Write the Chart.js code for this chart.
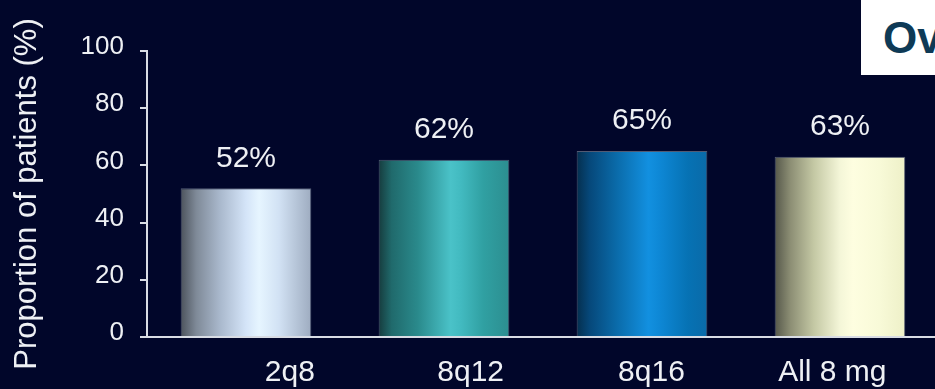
<!DOCTYPE html>
<html>
<head>
<meta charset="utf-8">
<title>Proportion of patients</title>
<script src="https://cdn.jsdelivr.net/npm/chart.js@4/dist/chart.umd.min.js"></script>
<style>
  html, body { margin: 0; padding: 0; background: #01062a; overflow: hidden; }
  body { width: 935px; height: 389px; position: relative; }
  #chartWrap { position: absolute; left: 0; top: 0; width: 950px; height: 389px; }
  .corner-title {
    position: absolute; left: 861px; top: 0; width: 80px; height: 75px;
    background: #ffffff; color: #0e3a56;
    font: bold 44px "Liberation Sans", Arial, sans-serif; line-height: 75px;
    padding-left: 22px; box-sizing: border-box; white-space: nowrap;
  }
</style>
</head>
<body>
<div id="chartWrap"><canvas id="responseChart" width="950" height="389"></canvas></div>
<div class="corner-title">Ov</div>
<script>
// Dose groups and proportion of patients (%)
const categories = ['2q8', '8q12', '8q16', 'All 8 mg'];
const responseRates = [52, 62, 65, 63];
const yTicks = [0, 20, 40, 60, 80, 100];

// Horizontal shading for each bar (cylinder look)
const barGradients = [
  [[0, '#4c535c'], [0.12, '#7f8a98'], [0.3, '#a9b8cc'], [0.5, '#d4e4f8'], [0.6, '#e6f5ff'], [0.75, '#d2e2f4'], [1, '#9eacc0']],
  [[0, '#163c3e'], [0.1, '#206a6c'], [0.3, '#2a8a8c'], [0.55, '#4ac2c8'], [0.63, '#42bac0'], [0.8, '#30a0a2'], [1, '#2c8e90']],
  [[0, '#052f4e'], [0.1, '#06487a'], [0.3, '#0a6aa8'], [0.55, '#1290e0'], [0.63, '#0e88d6'], [0.85, '#0672b4'], [1, '#0a6aa8']],
  [[0, '#55574a'], [0.12, '#8c8e74'], [0.3, '#c4c8a4'], [0.5, '#f4f6d8'], [0.6, '#fefee0'], [0.8, '#f8fad8'], [1, '#eef0c8']]
];

const textColor = '#eef0f4';
const axisColor = '#d8dce4';
const fontFamily = '"Liberation Sans", Arial, sans-serif';
const barFraction = 0.66;

function barFill(context) {
  const chart = context.chart;
  const stops = barGradients[context.dataIndex];
  if (!chart.chartArea) return stops[stops.length - 1][1];
  const xScale = chart.scales.x;
  const center = xScale.getPixelForValue(context.dataIndex);
  const half = xScale.width / categories.length * barFraction / 2;
  const g = chart.ctx.createLinearGradient(center - half, 0, center + half, 0);
  stops.forEach(([pos, color]) => g.addColorStop(pos, color));
  return g;
}

// Percent value above each bar
const valueLabels = {
  id: 'valueLabels',
  afterDatasetsDraw(chart) {
    const { ctx } = chart;
    const meta = chart.getDatasetMeta(0);
    ctx.save();
    ctx.font = '30px ' + fontFamily;
    ctx.fillStyle = textColor;
    ctx.textAlign = 'center';
    ctx.textBaseline = 'middle';
    meta.data.forEach((bar, i) => {
      ctx.fillText(responseRates[i] + '%', bar.x, bar.y - 30);
    });
    ctx.restore();
  }
};

const ctx = document.getElementById('responseChart').getContext('2d');
new Chart(ctx, {
  type: 'bar',
  data: {
    labels: categories,
    datasets: [{
      data: responseRates,
      backgroundColor: barFill,
      borderColor: 'rgba(150,160,175,0.55)',
      borderWidth: 1,
      borderSkipped: 'bottom',
      barPercentage: 1,
      categoryPercentage: barFraction
    }]
  },
  options: {
    responsive: false,
    animation: false,
    layout: { padding: { top: 51, right: 11, bottom: 0, left: 0 } },
    plugins: { legend: { display: false }, tooltip: { enabled: false } },
    scales: {
      x: {
        position: 'bottom',
        weight: 0,
        grid: { display: false },
        border: { display: true, color: axisColor, width: 2 },
        ticks: { display: false },
        afterFit: (scale) => { scale.height = 0; }
      },
      // dose group names sit on their own axis
      groupNames: {
        type: 'linear',
        position: 'bottom',
        weight: 1,
        offset: false,
        bounds: 'data',
        min: -0.79,
        max: 3.59,
        grid: { display: false, drawTicks: false, offset: false },
        border: { display: false },
        afterBuildTicks: (axis) => { axis.ticks = categories.map((_, i) => ({ value: i })); },
        ticks: {
          autoSkip: false,
          maxRotation: 0,
          padding: 18,
          color: textColor,
          font: { family: fontFamily, size: 30 },
          callback: (value) => categories[value]
        },
        afterFit: (scale) => { scale.height = 52; }
      },
      y: {
        min: 0,
        max: 100,
        afterBuildTicks: (axis) => { axis.ticks = yTicks.map(v => ({ value: v })); },
        grid: { drawOnChartArea: false, drawTicks: true, tickLength: 7, color: axisColor, lineWidth: 2 },
        border: { display: true, color: axisColor, width: 2 },
        ticks: {
          padding: 16,
          labelOffset: -4,
          color: textColor,
          font: { family: fontFamily, size: 26 }
        },
        title: {
          display: true,
          text: 'Proportion of patients (%)',
          color: textColor,
          font: { family: fontFamily, size: 31, lineHeight: 1.2 },
          padding: { top: 9, bottom: 0 }
        },
        afterFit: (scale) => { scale.width = 147; }
      }
    }
  },
  plugins: [valueLabels]
});
</script>
</body>
</html>
